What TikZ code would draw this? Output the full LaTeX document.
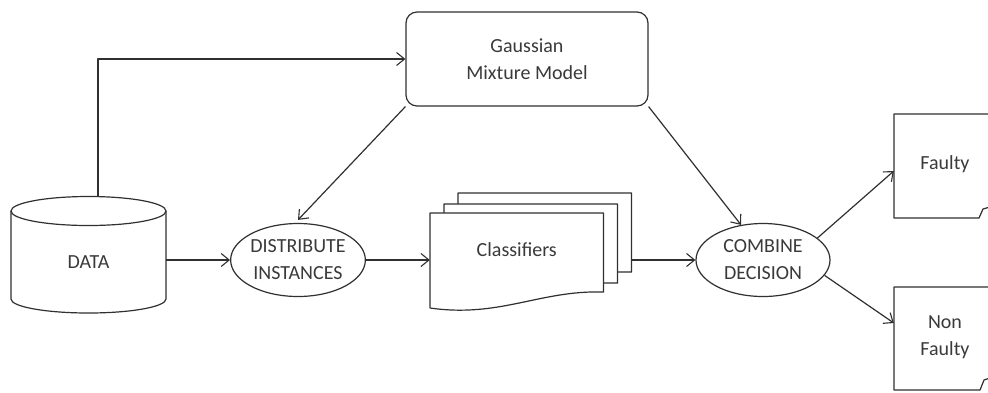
\documentclass[tikz,border=0pt]{standalone}
\usepackage{fontspec}
\setmainfont{Carlito}
\usetikzlibrary{arrows.meta,shapes.geometric}
\definecolor{ink}{HTML}{303030}
\definecolor{txt}{HTML}{3A3A3A}
\begin{document}
\begin{tikzpicture}[x=1pt,y=-1pt,
  lbl/.style={font=\fontsize{20}{27}\selectfont, text=txt, align=center, inner sep=0pt},
  edge/.style={draw=ink, line width=1.2pt, line join=round},
  arr/.style={edge, -{Straight Barb[length=8pt,width=13pt,line width=1.1pt]}},
  oval/.style={ellipse, edge, fill=white, lbl, minimum width=133, minimum height=73},
  gbox/.style={rectangle, rounded corners=11pt, edge, fill=white, lbl, minimum width=242, minimum height=94},
  hold/.style={rectangle, draw=none, inner sep=0pt}]
  \path[use as bounding box, fill=white] (0,0) rectangle (988,392);
  \clip (0,0) rectangle (988,392);

  % data store drawn as a cylinder
  \draw[edge, fill=white] (11,211) -- (11,299) arc[start angle=180, end angle=0, x radius=77.5, y radius=14] -- (166,211);
  \draw[edge, fill=white] (88.5,211) ellipse[x radius=77.5, y radius=14.5];
  \node[hold, lbl, minimum width=155, minimum height=102] (data) at (88.5,262) {DATA};

  % model and processing steps
  \node[gbox] (gmm) at (527,59) {Gaussian\\Mixture Model};
  \node[oval] (dist) at (298,260) {DISTRIBUTE\\INSTANCES};
  \node[oval, minimum width=134] (comb) at (763,260) {COMBINE\\DECISION};

  % stack of classifier documents, back to front
  \foreach \l/\t in {458/193, 444/204, 430/213} {
    \draw[edge, fill=white] (\l,\t) -- ({\l+173.5},\t) -- ({\l+173.5},{\t+79})
      .. controls ({\l+110},{\t+77}) and ({\l+70},{\t+105}) .. (\l,{\t+95}) -- cycle;
  }
  \node[hold, minimum width=173.5, minimum height=79] (cls3) at (544.75,232.5) {};
  \node[hold, lbl, minimum width=173.5, minimum height=74] (cls) at (516.75,250) {Classifiers};

  % outcome documents at the right edge
  \draw[edge] (996,114) -- (894,114) -- (894,218) -- (979,218) -- (983,209) -- (990,207);
  \node[hold, lbl, minimum width=102, minimum height=104] (fbox) at (945,164) {Faulty};
  \draw[edge] (996,287) -- (894,287) -- (894,390) -- (980,390) -- (984,380) -- (990,378);
  \node[hold, lbl, minimum width=102, minimum height=104] (nfbox) at (945,337) {Non\\Faulty};

  % connectors
  \draw[arr] ([xshift=9.5pt,yshift=14.5pt]data.north) |- (gmm.west);
  \draw[arr] (data.east |- dist.west) -- (dist.west);
  \draw[arr] (gmm.south west) -- ([yshift=3pt]dist.north);
  \draw[arr] (gmm.south east) -- (comb.122);
  \draw[arr] (dist.east) -- (dist.east -| cls.west);
  \draw[arr] (cls3.east |- comb.west) -- (comb.west);
  \draw[arr] (comb.22) -- ([yshift=-7pt]fbox.west);
  \draw[arr] (comb.-14) -- ([yshift=14pt]nfbox.west);
\end{tikzpicture}
\end{document}
